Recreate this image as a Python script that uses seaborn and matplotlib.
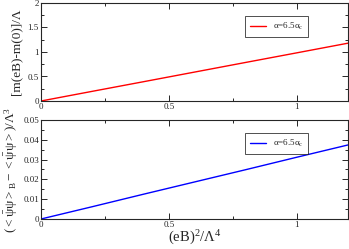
import numpy as np
import pandas as pd
import matplotlib
matplotlib.use("Agg")
import matplotlib.pyplot as plt
import seaborn as sns
from matplotlib.ticker import MultipleLocator

# data
eB2 = [0.0, 0.2, 0.4, 0.6, 0.8, 1.0, 1.2]
mass_shift = [0.0, 0.197, 0.393, 0.59, 0.787, 0.983, 1.18]
cond_shift = [0.0, 0.0062, 0.0125, 0.0187, 0.0249, 0.0312, 0.0374]
label = "α=6.5α$_{\\mathrm{c}}$"

df = pd.DataFrame({"x": eB2, "m": mass_shift, "c": cond_shift})

sns.set_style("ticks")
plt.rcParams["font.family"] = ["Liberation Serif", "DejaVu Serif"]
plt.rcParams["mathtext.fontset"] = "custom"
plt.rcParams["mathtext.rm"] = "Liberation Serif"
plt.rcParams["mathtext.it"] = "Liberation Serif"
plt.rcParams["mathtext.cal"] = "Liberation Serif"

fig = plt.figure(figsize=(3.49, 2.49), dpi=100)
ax1 = fig.add_axes([41 / 349, 1 - 101 / 249, 307 / 349, 98 / 249])
ax2 = fig.add_axes([41 / 349, 1 - 219 / 249, 307 / 349, 99 / 249])

sns.lineplot(data=df, x="x", y="m", ax=ax1, color="red", lw=1, label=label)
sns.lineplot(data=df, x="x", y="c", ax=ax2, color="blue", lw=1, label=label)

for ax in (ax1, ax2):
    ax.set_xlim(0, 1.2)
    ax.set_xticks([0, 0.5, 1])
    ax.set_xticklabels(["0", "0.5", "1"])
    ax.xaxis.set_minor_locator(MultipleLocator(0.25))
    ax.tick_params(which="both", direction="in", top=True, right=True,
                   labelsize=6.5, pad=1.5, width=0.7)
    ax.tick_params(which="major", length=4)
    ax.tick_params(which="minor", length=2)
    for s in ax.spines.values():
        s.set_linewidth(0.8)
    leg = ax.legend(loc="upper right", bbox_to_anchor=(0.885, 0.91), fontsize=6.5,
                    handlelength=1.8, borderpad=0.5, frameon=True, fancybox=False,
                    edgecolor="black", handletextpad=0.8)
    leg.get_frame().set_linewidth(0.6)

ax1.set_ylim(0, 2)
ax1.set_yticks([0, 0.5, 1, 1.5, 2])
ax1.set_yticklabels(["0", "0.5", "1", "1.5", "2"])
ax1.yaxis.set_minor_locator(MultipleLocator(0.25))
ax1.set_xlabel("")
ax1.set_ylabel("[m(eB)-m(0)]/Λ", fontsize=9.5, labelpad=4)

ax2.set_ylim(0, 0.05)
ax2.set_yticks([0, 0.01, 0.02, 0.03, 0.04, 0.05])
ax2.set_yticklabels(["0", "0.01", "0.02", "0.03", "0.04", "0.05"])
ax2.yaxis.set_minor_locator(MultipleLocator(0.005))
ax2.set_xlabel("(eB)$^2$/Λ$^4$", fontsize=10.5, labelpad=0)
ax2.set_ylabel(r"$(<\bar{\mathrm{\psi}}\mathrm{\psi}>_{\mathrm{B}}-<\bar{\mathrm{\psi}}\mathrm{\psi}>)/\Lambda^3$",
               fontsize=9.5, labelpad=2)

fig.savefig("out.png", dpi=100)
